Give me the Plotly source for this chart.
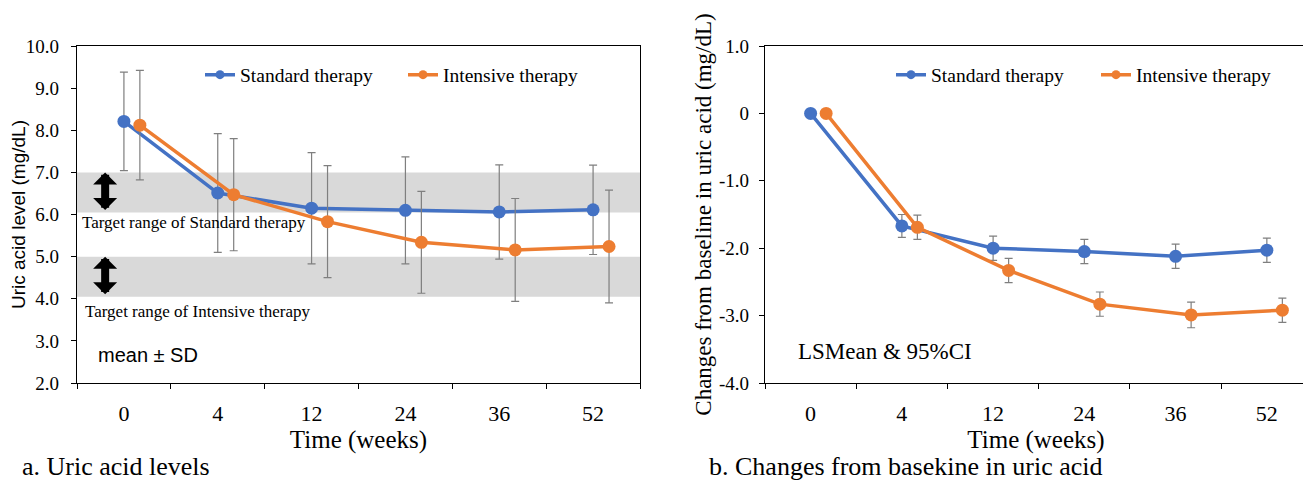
import plotly.graph_objects as go

# ---------------- data ----------------
weeks = ["0", "4", "12", "24", "36", "52"]

std_mean = [8.21, 6.51, 6.15, 6.10, 6.06, 6.11]
std_sd = [1.17, 1.41, 1.32, 1.27, 1.12, 1.06]
int_mean = [8.12, 6.47, 5.83, 5.34, 5.16, 5.24]
int_sd = [1.30, 1.33, 1.33, 1.21, 1.22, 1.34]

std_chg = [0.0, -1.67, -2.00, -2.05, -2.12, -2.03]
std_ci = [None, 0.17, 0.18, 0.18, 0.18, 0.18]
int_chg = [0.0, -1.69, -2.33, -2.83, -2.99, -2.92]
int_ci = [None, 0.18, 0.18, 0.18, 0.19, 0.18]

left_yticks = [2, 3, 4, 5, 6, 7, 8, 9, 10]
left_yticktext = ["2.0", "3.0", "4.0", "5.0", "6.0", "7.0", "8.0", "9.0", "10.0"]
right_yticks = [-4, -3, -2, -1, 0, 1]
right_yticktext = ["-4.0", "-3.0", "-2.0", "-1.0", "0", "1.0"]

std_band = [6.05, 7.0]
int_band = [4.05, 5.0]

BLUE = "#4472C4"
ORANGE = "#ED7D31"
ERR = "#7f7f7f"
SERIF = "Liberation Serif"
SANS = "Liberation Sans"
OFFSET = 0.17

xi = list(range(len(weeks)))
xo = [v + OFFSET for v in xi]

fig = go.Figure()

def add_series(x, y, err, color, xa, ya):
    fig.add_trace(go.Scatter(
        x=x, y=y, mode="lines+markers", xaxis=xa, yaxis=ya,
        line=dict(color=color, width=3.5),
        marker=dict(color=color, size=13),
        error_y=dict(type="data", array=err, visible=True, color=ERR,
                     thickness=1.2, width=4),
        showlegend=False, hoverinfo="skip"))

add_series(xi, std_mean, std_sd, BLUE, "x", "y")
add_series(xo, int_mean, int_sd, ORANGE, "x", "y")
add_series(xi, std_chg, std_ci, BLUE, "x2", "y2")
add_series(xo, int_chg, int_ci, ORANGE, "x2", "y2")

# legend entries
for name, color, lg, xa, ya in [
    ("Standard therapy", BLUE, "legend", "x", "y"),
    ("Intensive therapy", ORANGE, "legend", "x", "y"),
    ("Standard therapy", BLUE, "legend2", "x2", "y2"),
    ("Intensive therapy", ORANGE, "legend2", "x2", "y2"),
]:
    fig.add_trace(go.Scatter(
        x=[None], y=[None], mode="lines+markers", name=name, legend=lg,
        xaxis=xa, yaxis=ya,
        line=dict(color=color, width=3.5), marker=dict(color=color, size=9)))

W, H = 1311, 483
PAGE_OFFSET = 8  # default page margin around the figure
def px(v):
    return (v - PAGE_OFFSET) / W
def py(v):
    return (H - (v - PAGE_OFFSET)) / H

ydom = [py(383), py(46)]

axis_common = dict(
    showline=True, linecolor="black", linewidth=1.3, mirror=True,
    showgrid=False, zeroline=False, automargin=False,
)

fig.update_layout(
    width=W, height=H,
    margin=dict(l=0, r=0, t=0, b=0, autoexpand=False),
    paper_bgcolor="white", plot_bgcolor="white",
    font=dict(family=SERIF, color="black"),
    xaxis=dict(
        domain=[px(77), px(640)], range=[-0.5, 5.5], anchor="y",
        tickmode="array", tickvals=xi, ticktext=weeks, ticks="",
        ticklabelstandoff=10,
        tickfont=dict(family=SERIF, size=22),
        minor=dict(tickvals=[-0.5, 0.5, 1.5, 2.5, 3.5, 4.5, 5.5],
                   ticks="outside", ticklen=5, tickcolor="black", tickwidth=1),
        title=dict(text="Time (weeks)", font=dict(family=SERIF, size=25), standoff=4),
        **axis_common),
    yaxis=dict(
        domain=ydom, range=[2, 10], anchor="x",
        tickmode="array", tickvals=left_yticks, ticktext=left_yticktext,
        ticks="outside", ticklen=5, tickcolor="black",
        ticklabelstandoff=8,
        tickfont=dict(family=SERIF, size=19),
        title=dict(text="Uric acid level (mg/dL)", font=dict(family=SANS, size=19), standoff=3),
        **axis_common),
    xaxis2=dict(
        domain=[px(765), px(1307)], range=[-0.5, 5.44], anchor="y2",
        tickmode="array", tickvals=xi, ticktext=weeks, ticks="",
        ticklabelstandoff=10,
        tickfont=dict(family=SERIF, size=22),
        minor=dict(tickvals=[-0.5, 0.5, 1.5, 2.5, 3.5, 4.5],
                   ticks="outside", ticklen=5, tickcolor="black", tickwidth=1),
        title=dict(text="Time (weeks)", font=dict(family=SERIF, size=25), standoff=4),
        **axis_common),
    yaxis2=dict(
        domain=ydom, range=[-4, 1], anchor="x2",
        tickmode="array", tickvals=right_yticks, ticktext=right_yticktext,
        ticks="outside", ticklen=5, tickcolor="black",
        ticklabelstandoff=6,
        tickfont=dict(family=SERIF, size=19),
        title=dict(text="Changes from baseline in uric acid (mg/dL)",
                   font=dict(family=SERIF, size=23), standoff=0),
        **axis_common),
    legend=dict(
        orientation="h", x=px(200), y=py(75), xanchor="left", yanchor="middle",
        font=dict(family=SERIF, size=19.5), bgcolor="rgba(0,0,0,0)",
        itemclick=False, entrywidth=158),
    legend2=dict(
        orientation="h", x=px(891), y=py(75), xanchor="left", yanchor="middle",
        font=dict(family=SERIF, size=19.5), bgcolor="rgba(0,0,0,0)",
        itemclick=False, entrywidth=160),
)

# target range bands
for band in (std_band, int_band):
    fig.add_shape(type="rect", xref="x domain", yref="y",
                  x0=0, x1=1, y0=band[0], y1=band[1],
                  fillcolor="#d9d9d9", line=dict(width=0), layer="below")

# double arrows
for band in (std_band, int_band):
    fig.add_annotation(x=-0.2, y=band[1], ax=-0.2, ay=band[0] + 0.02,
                       xref="x", yref="y", axref="x", ayref="y",
                       showarrow=True, arrowhead=1, startarrowhead=1,
                       arrowside="end+start",
                       arrowwidth=8, arrowsize=0.5, startarrowsize=0.5,
                       arrowcolor="black", text="")

fig.add_annotation(x=px(80), y=py(222), xref="paper", yref="paper",
                   xanchor="left", yanchor="middle", showarrow=False,
                   text="Target range of Standard therapy",
                   font=dict(family=SERIF, size=17))
fig.add_annotation(x=px(83), y=py(311), xref="paper", yref="paper",
                   xanchor="left", yanchor="middle", showarrow=False,
                   text="Target range of Intensive therapy",
                   font=dict(family=SERIF, size=17))
fig.add_annotation(x=px(96), y=py(355), xref="paper", yref="paper",
                   xanchor="left", yanchor="middle", showarrow=False,
                   text="mean ± SD", font=dict(family=SANS, size=20))
fig.add_annotation(x=px(796), y=py(351), xref="paper", yref="paper",
                   xanchor="left", yanchor="middle", showarrow=False,
                   text="LSMean &amp; 95%CI", font=dict(family=SERIF, size=23))
fig.add_annotation(x=px(20), y=py(466), xref="paper", yref="paper",
                   xanchor="left", yanchor="middle", showarrow=False,
                   text="a. Uric acid levels", font=dict(family=SERIF, size=26))
fig.add_annotation(x=px(707), y=py(466), xref="paper", yref="paper",
                   xanchor="left", yanchor="middle", showarrow=False,
                   text="b. Changes from basekine in uric acid",
                   font=dict(family=SERIF, size=26))

fig.write_html("out.html")
